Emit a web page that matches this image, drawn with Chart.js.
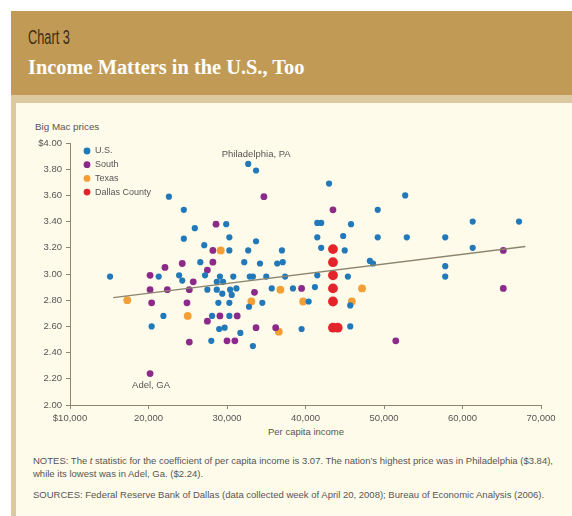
<!DOCTYPE html>
<html>
<head>
<meta charset="utf-8">
<script src="https://cdn.jsdelivr.net/npm/chart.js@4/dist/chart.umd.min.js"></script>
<style>
  body { margin: 0; width: 572px; height: 516px; background: #fff; position: relative; overflow: hidden; font-family: "Liberation Sans", Arial, sans-serif; }
  #head { position: absolute; left: 11px; top: 11px; width: 561px; height: 84px; background: #c19b55; }
  #strip { position: absolute; left: 11px; top: 95px; width: 561px; height: 8px; background: #dcc9a0; }
  #panel { position: absolute; left: 11px; top: 103px; width: 561px; height: 413px; background: #fffbea; border-left: 5px solid #dcc9a0; box-sizing: border-box; }
  #kicker { position: absolute; left: 28px; top: 26px; font: 20px "Liberation Sans", sans-serif; color: #3e2c12; transform: scaleX(0.64); transform-origin: left top; }
  #title { position: absolute; left: 28px; top: 56px; font: bold 20.4px "Liberation Serif", serif; color: #fff; }
  .small { position: absolute; font-size: 9.5px; color: #555; white-space: nowrap; }
  #chart { position: absolute; left: 0; top: 0; }
</style>
</head>
<body>
<div id="head"></div>
<div id="strip"></div>
<div id="panel"></div>
<div id="kicker">Chart 3</div>
<div id="title">Income Matters in the U.S., Too</div>
<div class="small" style="left:35px;top:121px;font-size:9.8px;">Big Mac prices</div>
<div class="small" style="left:268px;top:426px;">Per capita income</div>
<div class="small" style="left:33px;top:455px;">NOTES: The <i>t</i> statistic for the coefficient of per capita income is 3.07. The nation’s highest price was in Philadelphia ($3.84),</div>
<div class="small" style="left:33px;top:468px;">while its lowest was in Adel, Ga. ($2.24).</div>
<div class="small" style="left:33px;top:489px;">SOURCES: Federal Reserve Bank of Dallas (data collected week of April 20, 2008); Bureau of Economic Analysis (2006).</div>
<canvas id="chart" width="572" height="516"></canvas>
<script>
// [per capita income, Big Mac price]
const usPoints = [
  [15100, 2.98], [20400, 2.60], [21300, 2.98], [21900, 2.68], [22600, 3.59],
  [23900, 2.99], [24300, 2.95], [24500, 3.49], [24500, 3.27], [25900, 3.35],
  [26600, 3.09], [27100, 3.22], [27200, 2.99], [27500, 2.88], [28000, 2.49],
  [28100, 2.68], [28700, 2.88], [28700, 2.94], [28900, 2.78], [29000, 2.58],
  [29100, 2.98], [29400, 2.85], [29500, 2.94], [29700, 2.59], [29900, 3.38],
  [30300, 3.28], [30300, 3.18], [30300, 2.78], [30300, 2.68], [30400, 2.88],
  [30600, 2.84], [30800, 2.98], [31200, 2.89], [31700, 2.55], [32200, 3.09],
  [32700, 3.84], [32700, 3.18], [32800, 2.75], [32900, 2.98], [33300, 2.98],
  [33300, 2.45], [33700, 3.79], [33700, 3.25], [34200, 3.08], [34500, 2.78],
  [35000, 2.98], [35700, 2.89], [36400, 3.08], [37000, 3.18], [37100, 3.09],
  [37400, 2.98], [38400, 2.89], [39500, 2.58], [40400, 2.79], [41200, 2.90],
  [41500, 2.99], [41500, 3.39], [42000, 3.39], [41500, 3.28], [42000, 3.20],
  [43000, 3.69], [44800, 3.29], [45000, 3.18], [45400, 2.98], [45700, 2.76],
  [45700, 2.60], [45800, 3.38], [48200, 3.10], [48600, 3.08], [49200, 3.49],
  [49200, 3.28], [52700, 3.60], [52900, 3.28], [57800, 3.28], [57800, 3.06],
  [57800, 2.98], [61300, 3.40], [61300, 3.20], [67200, 3.40]
];
const southPoints = [
  [20200, 2.99], [20200, 2.88], [20400, 2.78], [20200, 2.24], [22100, 3.05],
  [22400, 2.88], [24300, 3.08], [24900, 2.78], [25200, 2.88], [25200, 2.48],
  [25700, 2.94], [27500, 3.03], [27500, 2.64], [28200, 3.09], [28200, 3.18],
  [28600, 3.38], [29100, 2.68], [30000, 2.49], [31000, 2.49], [31300, 2.68],
  [33500, 2.86], [33700, 2.59], [34700, 3.59], [36200, 2.59], [39500, 2.89],
  [43500, 3.49], [51500, 2.49], [65200, 3.18], [65200, 2.89]
];
const texasPoints = [
  [17300, 2.80], [25000, 2.68], [29200, 3.18], [33100, 2.79], [36600, 2.56],
  [36800, 2.88], [39700, 2.79], [45900, 2.79], [47200, 2.89]
];
const dallasPoints = [
  [43500, 3.19], [43500, 3.09], [43500, 2.99], [43500, 2.89], [43500, 2.79],
  [43500, 2.59], [44100, 2.59]
];
const trendPoints = [[15500, 2.82], [68000, 3.21]];
const seriesNames = ['U.S.', 'South', 'Texas', 'Dallas County'];
const seriesColors = ['#2279b9', '#8c2a8a', '#f2a035', '#e3242b'];
const yTicks = [2.0, 2.2, 2.4, 2.6, 2.8, 3.0, 3.2, 3.4, 3.6, 3.8, 4.0];
const xTicks = [10000, 20000, 30000, 40000, 50000, 60000, 70000];
const callouts = [
  { label: 'Philadelphia, PA', at: [32700, 3.84], dx: 8, dy: -10 },
  { label: 'Adel, GA', at: [20200, 2.24], dx: 1, dy: 12 }
];

const toXY = arr => arr.map(p => ({ x: p[0], y: p[1] }));

const sizes = [3.1, 3.4, 3.9, 4.9];
const groups = [usPoints, southPoints, texasPoints, dallasPoints];
const datasets = groups.map((g, i) => ({
  type: 'scatter',
  label: seriesNames[i],
  data: toXY(g),
  backgroundColor: seriesColors[i],
  borderColor: seriesColors[i],
  borderWidth: 0,
  pointRadius: sizes[i]
}));
datasets.unshift({
  type: 'line',
  label: 'trend',
  data: toXY(trendPoints),
  borderColor: '#8b8570',
  borderWidth: 1.3,
  pointRadius: 0
});

const extras = {
  id: 'extras',
  afterDatasetsDraw(chart) {
    const c = chart.ctx, xs = chart.scales.x, ys = chart.scales.y, a = chart.chartArea;
    c.save();
    c.font = '9px "Liberation Sans", Arial, sans-serif';
    c.fillStyle = '#555';
    c.textBaseline = 'middle';
    // legend
    seriesNames.forEach((n, i) => {
      const y = a.top + 8 + i * 13.7;
      c.beginPath();
      c.arc(a.left + 17, y, 3.4, 0, Math.PI * 2);
      c.fillStyle = seriesColors[i];
      c.fill();
      c.fillStyle = '#555';
      c.textAlign = 'left';
      c.fillText(n, a.left + 25, y);
    });
    // callouts
    c.font = '9.5px "Liberation Sans", Arial, sans-serif';
    c.textAlign = 'center';
    callouts.forEach(o => {
      c.fillText(o.label, xs.getPixelForValue(o.at[0]) + o.dx, ys.getPixelForValue(o.at[1]) + o.dy);
    });
    c.restore();
  }
};

Chart.defaults.font.family = '"Liberation Sans", Arial, sans-serif';
Chart.defaults.font.size = 9.5;
Chart.defaults.color = '#555';

new Chart(document.getElementById('chart'), {
  type: 'scatter',
  data: { datasets: datasets },
  options: {
    responsive: false,
    animation: false,
    layout: { padding: { top: 143, right: 31, bottom: 0, left: 0 } },
    plugins: { legend: { display: false }, tooltip: { enabled: false } },
    scales: {
      x: {
        type: 'linear',
        min: 10000, max: 70000,
        afterFit: s => { s.height = 111; },
        afterBuildTicks: s => { s.ticks = xTicks.map(v => ({ value: v })); },
        ticks: {
          padding: 4,
          callback: v => (v === 10000 ? '$' : '') + v.toLocaleString('en-US')
        },
        grid: { drawOnChartArea: false, drawTicks: true, tickLength: 4, color: '#8e8672' },
        border: { color: '#8e8672', width: 1 }
      },
      y: {
        type: 'linear',
        min: 2, max: 4,
        afterFit: s => { s.width = 70; },
        afterBuildTicks: s => { s.ticks = yTicks.map(v => ({ value: v })); },
        ticks: {
          padding: 4,
          callback: v => (v === 4 ? '$' : '') + v.toFixed(2)
        },
        grid: { drawOnChartArea: false, drawTicks: true, tickLength: 4, color: '#8e8672' },
        border: { color: '#8e8672', width: 1 }
      }
    }
  },
  plugins: [extras]
});
</script>
</body>
</html>
